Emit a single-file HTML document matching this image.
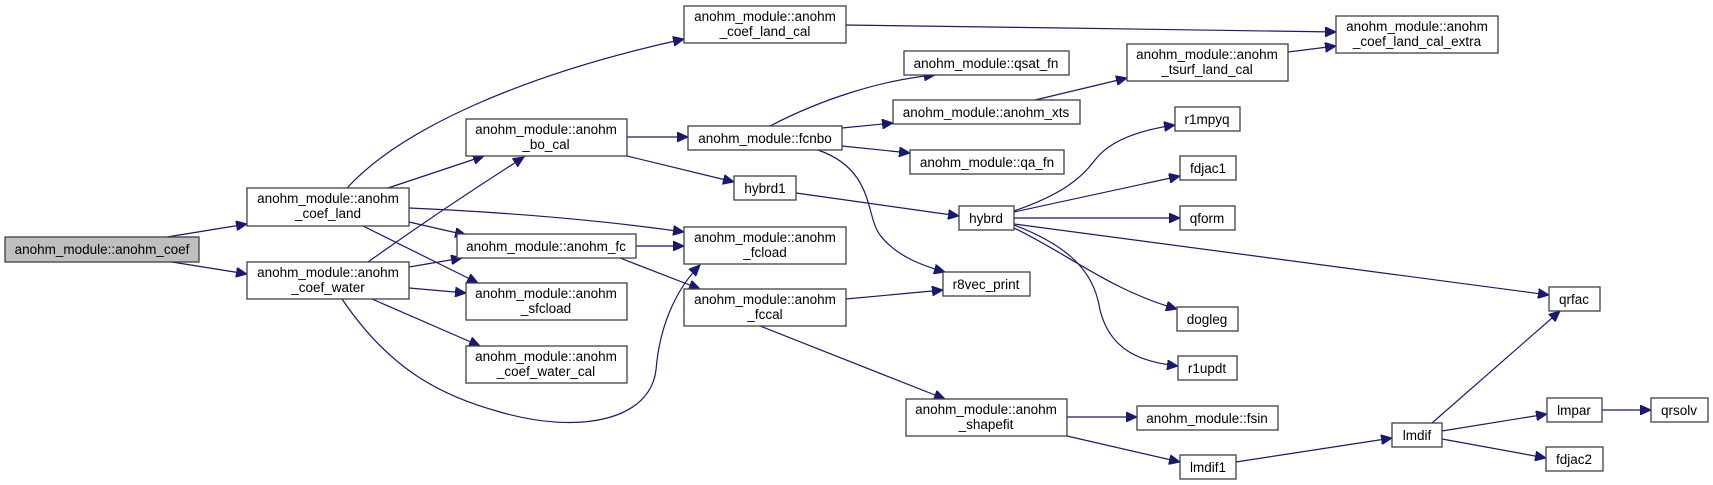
<!DOCTYPE html>
<html><head><meta charset="utf-8"><style>
html,body{margin:0;padding:0;background:#fff;}
svg{display:block;}
text{font-family:"Liberation Sans",Arial,sans-serif;font-size:13.5px;fill:#000;text-anchor:middle;}
rect{fill:#fff;stroke:#404040;stroke-width:1.3;}
path.e{fill:none;stroke:#191970;stroke-width:1.2;marker-end:url(#a);}
</style></head><body>
<svg width="1713" height="485" viewBox="0 0 1713 485" xmlns="http://www.w3.org/2000/svg">
<defs><marker id="a" markerUnits="userSpaceOnUse" markerWidth="12" markerHeight="10" refX="11" refY="5" orient="auto"><path d="M0,0 L11,5 L0,10 z" fill="#191970" stroke="#191970"/></marker></defs>
<g>
<path class="e" d="M167,237 L247,224"/>
<path class="e" d="M172,262 L247,274"/>
<path class="e" d="M347,188 C400,130 520,75 684,39"/>
<path class="e" d="M388,188 L484,156"/>
<path class="e" d="M409,208 C500,212 600,220 684,232"/>
<path class="e" d="M409,222 L466,235"/>
<path class="e" d="M363,226 L478,283"/>
<path class="e" d="M368,262 C420,225 480,185 524,157"/>
<path class="e" d="M409,267 L462,258"/>
<path class="e" d="M409,288 L466,293"/>
<path class="e" d="M372,299 L480,346"/>
<path class="e" d="M342,299 C390,370 440,395 500,412 C580,435 650,420 656,370 C660,320 680,285 700,265"/>
<path class="e" d="M627,137 L688,137"/>
<path class="e" d="M627,156 L734,182"/>
<path class="e" d="M636,246 L684,246"/>
<path class="e" d="M620,258 L700,289"/>
<path class="e" d="M770,126 C820,100 880,80 935,75"/>
<path class="e" d="M842,128 L893,123"/>
<path class="e" d="M842,146 L910,153"/>
<path class="e" d="M818,150 C875,170 865,215 880,235 C895,255 920,265 945,272"/>
<path class="e" d="M796,193 L959,216"/>
<path class="e" d="M846,299 L943,290"/>
<path class="e" d="M760,326 L945,399"/>
<path class="e" d="M1035,100 L1127,78"/>
<path class="e" d="M1288,52 L1336,46"/>
<path class="e" d="M846,25 C1000,27 1200,30 1336,32"/>
<path class="e" d="M1014,211 C1060,195 1080,180 1095,160 C1110,140 1140,130 1175,125"/>
<path class="e" d="M1014,212 L1180,176"/>
<path class="e" d="M1014,218 L1180,218"/>
<path class="e" d="M1014,224 L1549,295"/>
<path class="e" d="M1014,228 C1070,255 1110,290 1177,309"/>
<path class="e" d="M1014,225 C1080,250 1095,280 1100,310 C1110,350 1140,362 1178,366"/>
<path class="e" d="M1067,417 L1137,417"/>
<path class="e" d="M1067,436 L1180,462"/>
<path class="e" d="M1236,462 L1392,438"/>
<path class="e" d="M1432,423 L1560,311"/>
<path class="e" d="M1442,431 L1547,414"/>
<path class="e" d="M1442,439 L1546,458"/>
<path class="e" d="M1602,410 L1651,410"/>
</g>
<g>
<rect x="5" y="237" width="194" height="25" style="fill:#bfbfbf"/><text x="102" y="254">anohm_module::anohm_coef</text>
<rect x="247" y="188" width="162" height="38"/><text x="328" y="203">anohm_module::anohm</text><text x="328" y="218">_coef_land</text>
<rect x="247" y="262" width="162" height="37"/><text x="328" y="277">anohm_module::anohm</text><text x="328" y="292">_coef_water</text>
<rect x="684" y="6" width="162" height="37"/><text x="765" y="21">anohm_module::anohm</text><text x="765" y="36">_coef_land_cal</text>
<rect x="466" y="119" width="161" height="37"/><text x="546" y="134">anohm_module::anohm</text><text x="546" y="149">_bo_cal</text>
<rect x="457" y="234" width="179" height="24"/><text x="546" y="251">anohm_module::anohm_fc</text>
<rect x="466" y="283" width="161" height="37"/><text x="546" y="298">anohm_module::anohm</text><text x="546" y="313">_sfcload</text>
<rect x="466" y="346" width="161" height="37"/><text x="546" y="361">anohm_module::anohm</text><text x="546" y="376">_coef_water_cal</text>
<rect x="688" y="126" width="154" height="24"/><text x="765" y="143">anohm_module::fcnbo</text>
<rect x="684" y="227" width="162" height="37"/><text x="765" y="242">anohm_module::anohm</text><text x="765" y="257">_fcload</text>
<rect x="684" y="289" width="162" height="37"/><text x="765" y="304">anohm_module::anohm</text><text x="765" y="319">_fccal</text>
<rect x="904" y="51" width="165" height="24"/><text x="986" y="68">anohm_module::qsat_fn</text>
<rect x="893" y="100" width="187" height="24"/><text x="986" y="117">anohm_module::anohm_xts</text>
<rect x="910" y="150" width="154" height="24"/><text x="987" y="167">anohm_module::qa_fn</text>
<rect x="734" y="176" width="62" height="24"/><text x="765" y="193">hybrd1</text>
<rect x="959" y="206" width="55" height="24"/><text x="986" y="223">hybrd</text>
<rect x="943" y="272" width="87" height="24"/><text x="986" y="289">r8vec_print</text>
<rect x="906" y="399" width="161" height="37"/><text x="986" y="414">anohm_module::anohm</text><text x="986" y="429">_shapefit</text>
<rect x="1127" y="44" width="161" height="37"/><text x="1207" y="59">anohm_module::anohm</text><text x="1207" y="74">_tsurf_land_cal</text>
<rect x="1336" y="16" width="162" height="37"/><text x="1417" y="31">anohm_module::anohm</text><text x="1417" y="46">_coef_land_cal_extra</text>
<rect x="1175" y="107" width="65" height="24"/><text x="1207" y="124">r1mpyq</text>
<rect x="1180" y="156" width="56" height="24"/><text x="1208" y="173">fdjac1</text>
<rect x="1180" y="206" width="55" height="24"/><text x="1207" y="223">qform</text>
<rect x="1177" y="307" width="61" height="24"/><text x="1207" y="324">dogleg</text>
<rect x="1178" y="356" width="59" height="24"/><text x="1207" y="373">r1updt</text>
<rect x="1137" y="406" width="141" height="24"/><text x="1207" y="423">anohm_module::fsin</text>
<rect x="1180" y="455" width="56" height="24"/><text x="1208" y="472">lmdif1</text>
<rect x="1392" y="423" width="50" height="24"/><text x="1417" y="440">lmdif</text>
<rect x="1549" y="287" width="51" height="24"/><text x="1574" y="304">qrfac</text>
<rect x="1547" y="398" width="55" height="24"/><text x="1574" y="415">lmpar</text>
<rect x="1546" y="447" width="57" height="24"/><text x="1574" y="464">fdjac2</text>
<rect x="1651" y="398" width="57" height="24"/><text x="1679" y="415">qrsolv</text>
</g>
</svg>
</body></html>
